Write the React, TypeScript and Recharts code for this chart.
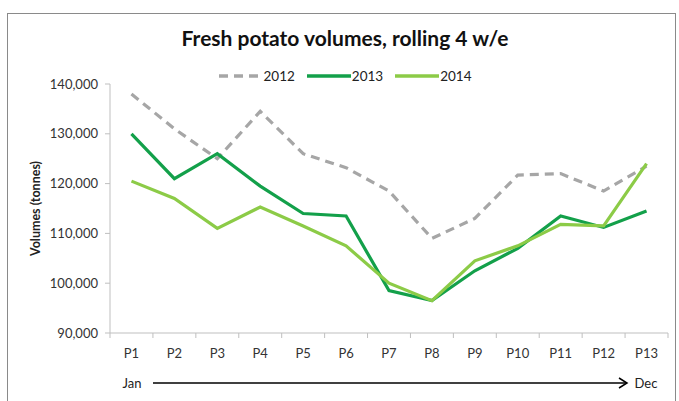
import React from 'react';
import { LineChart, Line, XAxis, YAxis } from 'recharts';

const periods = ['P1','P2','P3','P4','P5','P6','P7','P8','P9','P10','P11','P12','P13'];
const v2012 = [138000,131000,125000,134500,126000,123200,118500,109000,113000,121700,122000,118500,123500];
const v2013 = [130000,121000,126000,119500,114000,113500,98500,96500,102500,107000,113500,111200,114500];
const v2014 = [120500,117000,111000,115300,111500,107500,100000,96500,104500,107500,111800,111500,124000];
const yTicks = [90000,100000,110000,120000,130000,140000];

const data = periods.map((p, i) => ({ p, a: v2012[i], b: v2013[i], c: v2014[i] }));

const FONT = 'Lato, "Open Sans", sans-serif';

const series = [
  { key: 'a', name: '2012', color: '#A6A6A6', dash: '9 6' },
  { key: 'b', name: '2013', color: '#13A04A', dash: undefined },
  { key: 'c', name: '2014', color: '#8CCB47', dash: undefined },
];

export default function App() {
  const plotW = 558;
  const band = plotW / 13;
  return (
    <div style={{ position: 'absolute', left: 0, top: 0, width: 679, height: 401, background: '#fff', overflow: 'hidden' }}>
      <div style={{ position: 'absolute', left: 7, top: 13, width: 667, height: 400, border: '1px solid #8a8a8a' }} />
      <div style={{ position: 'absolute', left: 0, top: 25, width: 690, textAlign: 'center', fontFamily: FONT, fontWeight: 700, fontSize: 21, color: '#111' }}>
        Fresh potato volumes, rolling 4 w/e
      </div>
      <div style={{ position: 'absolute', left: 0, top: 68, width: 690, display: 'flex', justifyContent: 'center', fontFamily: FONT, fontSize: 13.5, color: '#222' }}>
        {series.map((s) => (
          <div key={s.key} style={{ display: 'flex', alignItems: 'center', margin: '0 6px' }}>
            <svg width={44} height={8}>
              <line x1={0} y1={4} x2={44} y2={4} stroke={s.color} strokeWidth={3.5} strokeDasharray={s.dash} />
            </svg>
            <span style={{ marginLeft: 1 }}>{s.name}</span>
          </div>
        ))}
      </div>
      <div style={{ position: 'absolute', left: 0, top: 0 }}>
        <LineChart width={679} height={401} data={data} margin={{ top: 84, right: 11, left: 40, bottom: 38 }}>
          <XAxis dataKey="p" height={30} tick={{ fontFamily: FONT, fontSize: 13, fill: '#333' }} tickLine={false}
            axisLine={{ stroke: '#BFBFBF' }} interval={0} tickMargin={10} padding={{ left: band / 2, right: band / 2 }} />
          <YAxis domain={[90000, 140000]} ticks={yTicks} width={70} tickFormatter={(v: number) => v.toLocaleString('en-US')}
            tick={{ fontFamily: FONT, fontSize: 13, fill: '#333' }} axisLine={{ stroke: '#BFBFBF' }} tickLine={{ stroke: '#BFBFBF' }}
            tickSize={5} tickMargin={7}
            label={{ value: 'Volumes (tonnes)', angle: -90, position: 'insideLeft', offset: -4, style: { fontFamily: FONT, fontSize: 12.5, fontWeight: 700, fill: '#222', textAnchor: 'middle' } }} />
          {series.map((s) => (
            <Line key={s.key} type="linear" dataKey={s.key} name={s.name} stroke={s.color} strokeWidth={3.2}
              strokeDasharray={s.dash} dot={false} isAnimationActive={false} />
          ))}
        </LineChart>
      </div>
      <svg style={{ position: 'absolute', left: 0, top: 0 }} width={679} height={401}>
        {periods.map((_, i) => {
          const x = 110 + i * band;
          return <line key={i} x1={x} y1={333} x2={x} y2={338} stroke="#BFBFBF" />;
        })}
        <line x1={668} y1={333} x2={668} y2={338} stroke="#BFBFBF" />
        <text x={132} y={388} textAnchor="middle" fontFamily={FONT} fontSize={13} fill="#222">Jan</text>
        <text x={646} y={388} textAnchor="middle" fontFamily={FONT} fontSize={13} fill="#222">Dec</text>
        <line x1={153} y1={383} x2={626} y2={383} stroke="#000" strokeWidth={1.5} />
        <polyline points="619,378 627,383 619,388" fill="none" stroke="#000" strokeWidth={1.5} />
      </svg>
    </div>
  );
}
